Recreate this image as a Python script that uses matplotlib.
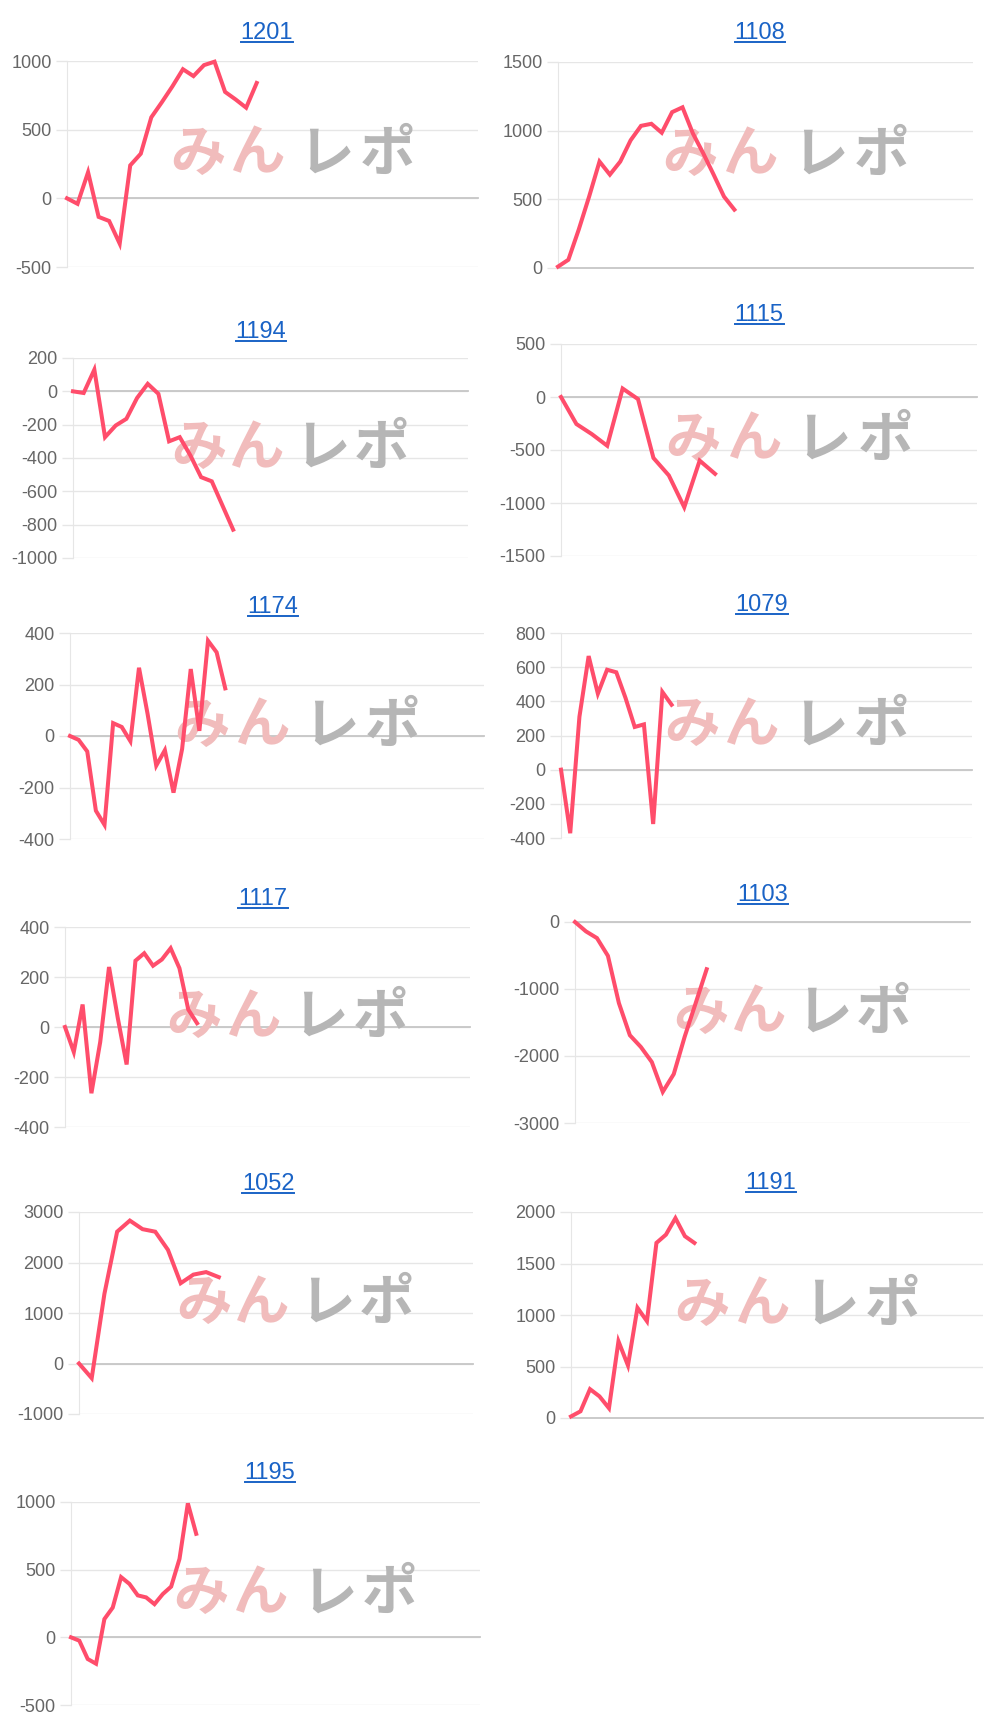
import matplotlib.pyplot as plt
from matplotlib.lines import Line2D

plt.rcParams['axes.unicode_minus'] = False

# ============================================================================
# DATA
# ============================================================================

TITLES = ['1201', '1108', '1194', '1115', '1174', '1079',
          '1117', '1103', '1052', '1191', '1195']

S_1201 = [0, -40, 190, -135, -165, -330, 240, 325, 590, 700, 815, 940, 890,
          970, 995, 775, 720, 660, 840]
S_1108 = [10, 60, 280, 520, 775, 680, 775, 930, 1035, 1050, 985, 1135, 1170,
          980, 835, 680, 520, 425]
S_1194 = [0, -10, 130, -275, -205, -165, -40, 45, -15, -300, -275, -385,
          -515, -540, -685, -830]
S_1115 = [0, -255, -350, -460, 80, -20, -575, -740, -1040, -600, -725]
S_1174 = [0, -15, -60, -290, -345, 50, 35, -20, 265, 85, -115, -55, -220,
          -50, 260, 20, 370, 325, 185]
S_1079 = [0, -372, 310, 665, 445, 585, 570, 420, 250, 265, -318, 455, 380]
S_1117 = [0, -100, 90, -265, -60, 240, 35, -150, 265, 295, 245, 270, 315,
          235, 70, 15]
S_1103 = [0, -140, -240, -505, -1210, -1690, -1865, -2090, -2535, -2270,
          -1710, -1210, -705]
S_1052 = [0, -290, 1380, 2610, 2830, 2660, 2610, 2250, 1590, 1760, 1810, 1710]
S_1191 = [15, 65, 280, 210, 95, 745, 510, 1070, 940, 1700, 1780, 1940, 1765,
          1700]
S_1195 = [0, -25, -160, -195, 135, 220, 445, 395, 310, 295, 245, 320, 375,
          580, 990, 765]

SERIES = [S_1201, S_1108, S_1194, S_1115, S_1174, S_1079,
          S_1117, S_1103, S_1052, S_1191, S_1195]

# y axis (min, max, step) for each chart
Y_AXES = [(-500, 1000, 500), (0, 1500, 500), (-1000, 200, 200),
          (-1500, 500, 500), (-400, 400, 200), (-400, 800, 200),
          (-400, 400, 200), (-3000, 0, 1000), (-1000, 3000, 1000),
          (0, 2000, 500), (-500, 1000, 500)]

# number of x categories shown on each chart
X_SPANS = [39, 40, 37, 27, 48, 44.6, 46, 36, 31, 43.4, 49]

# watermark logo characters
WATERMARK = ['み', 'ん', 'レ', 'ポ']

# ============================================================================
# LAYOUT (pixels in a 1000 x 1727 canvas)
# ============================================================================

W, H = 1000, 1727
PLOT_BOXES = [(67, 478, 61, 267), (558, 973, 62, 268),
              (73, 468, 358, 558), (561, 977, 344, 556),
              (70, 484, 633, 839), (561, 972, 633, 838),
              (65, 470, 927, 1127), (575, 970, 922, 1123),
              (79, 473, 1212, 1414), (571, 983, 1212, 1418),
              (71, 480, 1502, 1705)]
TITLE_POS = [(267, 33), (760, 33), (261, 332), (759, 315), (273, 607),
             (762, 605), (263, 899), (763, 895), (268, 1184), (771, 1183),
             (270, 1473)]
# watermark character centres, as axes fractions
WM_X = [0.318, 0.465, 0.630, 0.780]
WM_Y = 0.545
WM_COLORS = ['#f1bcbc', '#f1bcbc', '#b6b6b6', '#b6b6b6']

LINE_COLOR = '#ff4d6b'
GRID_COLOR = '#e6e6e6'
ZERO_COLOR = '#c6c6c6'
TITLE_COLOR = '#1a63c6'
LABEL_FONT = ['Liberation Sans', 'DejaVu Sans']
CJK_FONT = ['Noto Sans CJK JP', 'DejaVu Sans']

fig = plt.figure(figsize=(W / 100, H / 100), dpi=100)
fig.patch.set_facecolor('white')

titles = []
for i, name in enumerate(TITLES):
    x0, x1, y0, y1 = PLOT_BOXES[i]
    ax = fig.add_axes([x0 / W, 1 - y1 / H, (x1 - x0) / W, (y1 - y0) / H])
    lo, hi, step = Y_AXES[i]
    ax.set_ylim(lo, hi)
    ax.set_xlim(0, X_SPANS[i])
    ax.set_yticks(list(range(lo, hi + 1, step)))
    ax.set_xticks([])
    ax.grid(axis='y', color=GRID_COLOR, linewidth=1)
    ax.set_axisbelow(True)
    for side in ['top', 'right', 'bottom']:
        ax.spines[side].set_visible(False)
    ax.spines['left'].set_color(GRID_COLOR)
    ax.tick_params(axis='y', length=8, width=1, color=GRID_COLOR,
                   labelcolor='#666666', labelsize=13, pad=3)
    for lab in ax.get_yticklabels():
        lab.set_fontfamily(LABEL_FONT)
    ax.axhline(0, color=ZERO_COLOR, linewidth=1.3, clip_on=False, zorder=1)

    # watermark
    for ch, wx, wc in zip(WATERMARK, WM_X, WM_COLORS):
        ax.text(wx, WM_Y, ch, transform=ax.transAxes, ha='center',
                va='center', fontsize=40, fontweight='bold', color=wc,
                family=CJK_FONT, zorder=2)

    ys = SERIES[i]
    ax.plot(range(len(ys)), ys, color=LINE_COLOR, linewidth=2.9,
            solid_joinstyle='miter', clip_on=False, zorder=3)

    tx, ty = TITLE_POS[i]
    t = fig.text(tx / W, 1 - ty / H, name, ha='center', va='center',
                 fontsize=17, color=TITLE_COLOR, family=LABEL_FONT)
    titles.append(t)

# underline the titles (they are links in the original page)
renderer = fig.canvas.get_renderer()
for t in titles:
    bb = t.get_window_extent(renderer=renderer)
    bb = bb.transformed(fig.transFigure.inverted())
    yline = bb.y0 + 2.0 / H
    fig.add_artist(Line2D([bb.x0, bb.x1], [yline, yline],
                          transform=fig.transFigure, color=TITLE_COLOR,
                          linewidth=1.4))

fig.savefig('out.png', dpi=100)
